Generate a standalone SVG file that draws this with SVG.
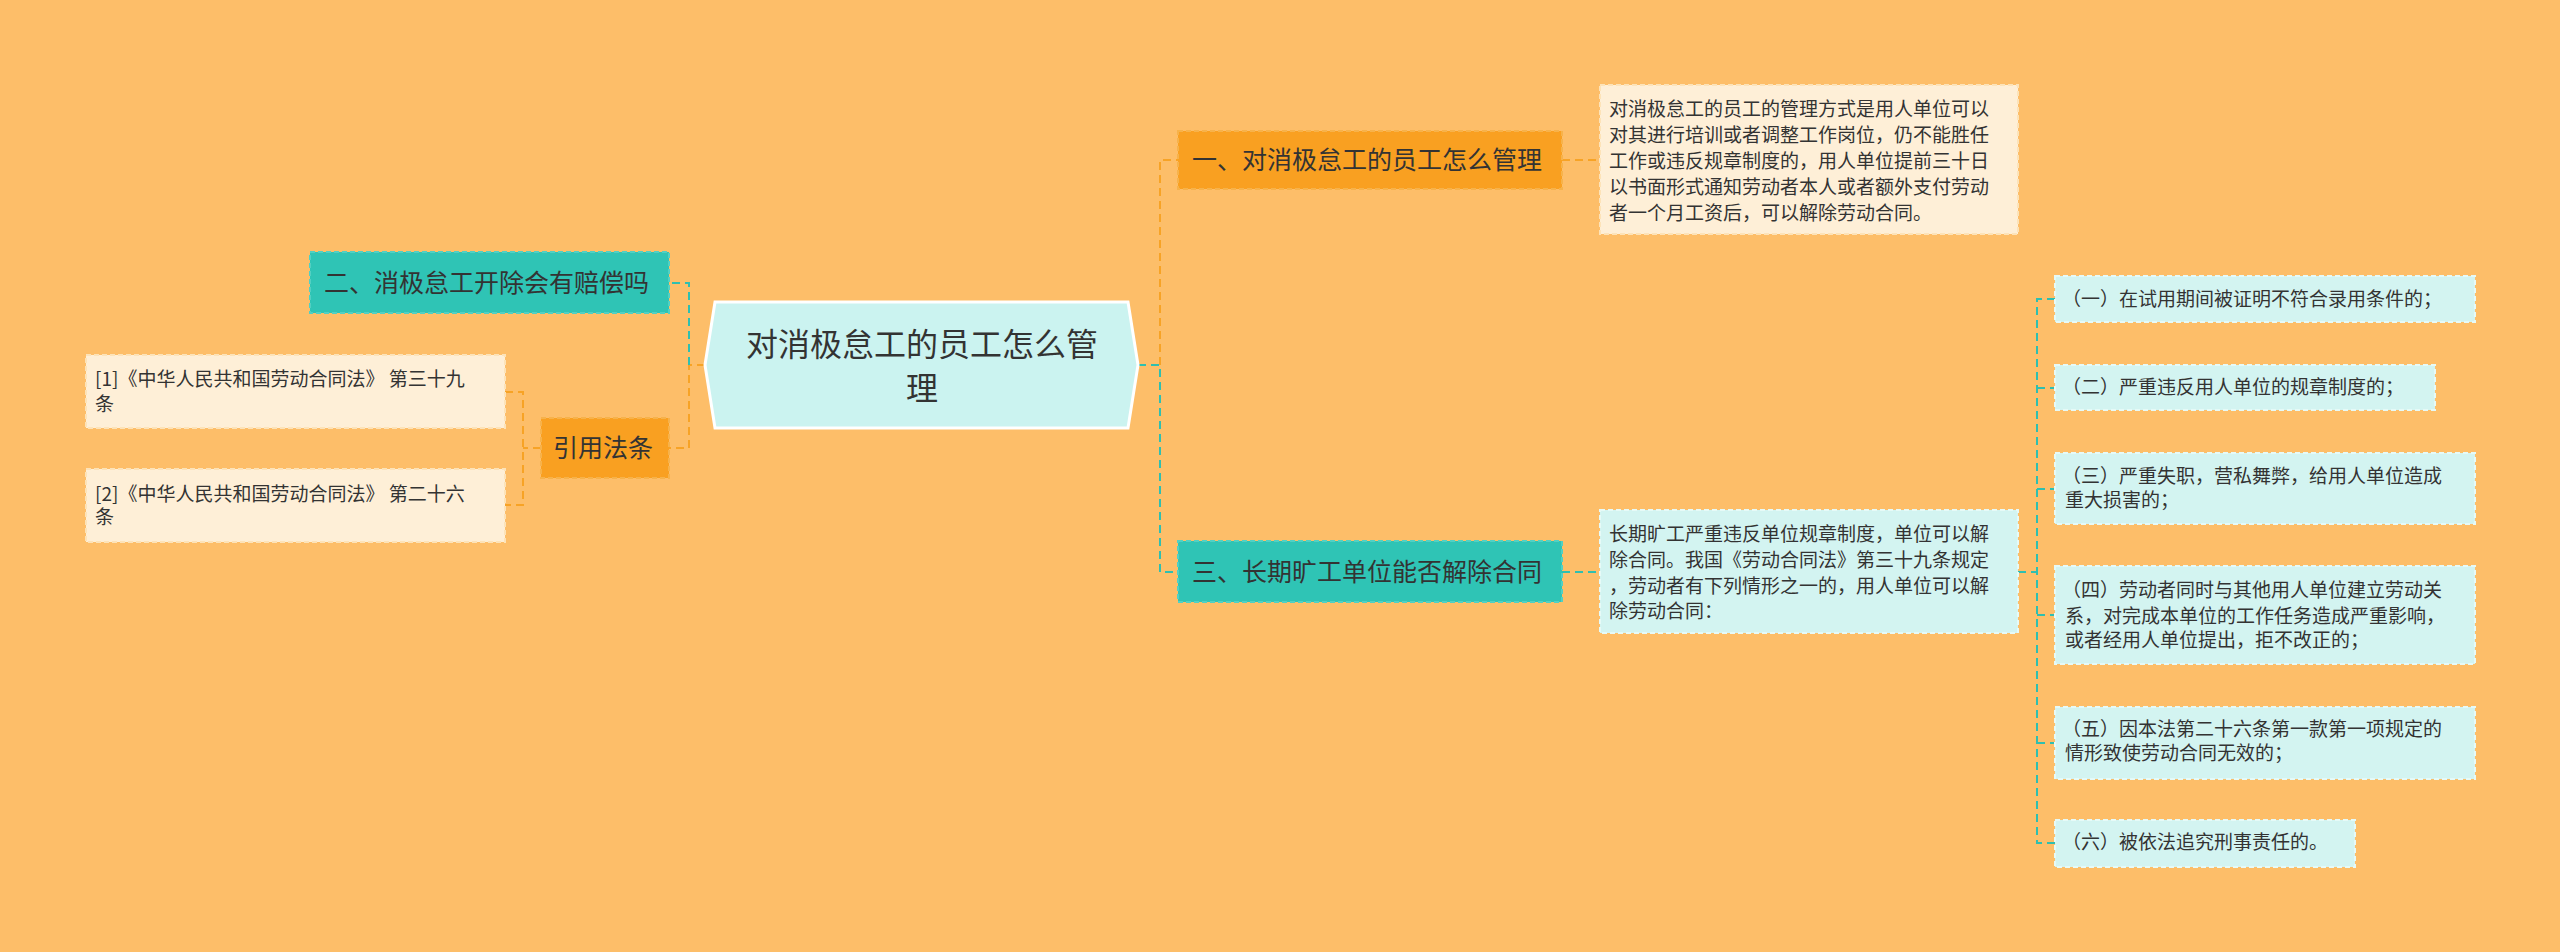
<svg xmlns="http://www.w3.org/2000/svg" width="2560" height="952" viewBox="0 0 2560 952">
<style>
text{font-family:"Noto Sans CJK SC","Noto Sans",sans-serif;fill:#333}
.t1{font-size:25px}
.t2{font-size:19px}
.or{fill:#f9a021;stroke:#f7b24a;stroke-width:2;stroke-dasharray:5 3}
.te{fill:#2fc4b5;stroke:#52d0c3;stroke-width:2;stroke-dasharray:5 3}
.cr{fill:#feefd7;stroke:#fde3b8;stroke-width:2;stroke-dasharray:5 3}
.cy{fill:#d3f4f1;stroke:#e6faf7;stroke-width:2;stroke-dasharray:5 3}
.lo{fill:none;stroke:#f7a326;stroke-width:2;stroke-dasharray:8 5}
.lt{fill:none;stroke:#2fbfb0;stroke-width:2;stroke-dasharray:8 5}
</style>
<rect width="2560" height="952" fill="#fdbe69"/>
<g id="connectors">
<path class="lo" d="M705 365H689V448H669"/>
<path class="lt" d="M689 365V283H669"/>
<path class="lo" d="M541 448H523M505 392H523V505H505"/>
<path class="lt" d="M1138 365H1160V572H1178"/>
<path class="lo" d="M1160 365V160H1178M1562 160H1600"/>
<path class="lt" d="M1562 572H1600M2018 572H2037M2055 299H2037V843H2055M2037 388H2055M2037 489H2055M2037 615H2055M2037 743H2055"/>
</g>
<g id="center">
<polygon points="715,302 1128,302 1138,365 1128,428 715,428 705,365" fill="#cbf3f0" stroke="#fff" stroke-width="3"/>
<text x="922" y="356" font-size="32" text-anchor="middle">对消极怠工的员工怎么管</text>
<text x="922" y="400" font-size="32" text-anchor="middle">理</text>
</g>
<g id="n1"><rect class="or" x="1178" y="131" width="384" height="58"/><text class="t1" x="1192" y="169">一、对消极怠工的员工怎么管理</text></g>
<g id="n1d"><rect class="cr" x="1600" y="85" width="418" height="149"/>
<text class="t2" x="1609" y="116">对消极怠工的员工的管理方式是用人单位可以</text>
<text class="t2" x="1609" y="142">对其进行培训或者调整工作岗位，仍不能胜任</text>
<text class="t2" x="1609" y="168">工作或违反规章制度的，用人单位提前三十日</text>
<text class="t2" x="1609" y="194">以书面形式通知劳动者本人或者额外支付劳动</text>
<text class="t2" x="1609" y="220">者一个月工资后，可以解除劳动合同。</text></g>
<g id="n3"><rect class="te" x="1178" y="541" width="384" height="61"/><text class="t1" x="1192" y="581">三、长期旷工单位能否解除合同</text></g>
<g id="n3d"><rect class="cy" x="1600" y="510" width="418" height="123"/>
<text class="t2" x="1609" y="541">长期旷工严重违反单位规章制度，单位可以解</text>
<text class="t2" x="1609" y="567">除合同。我国《劳动合同法》第三十九条规定</text>
<text class="t2" x="1609" y="593">，劳动者有下列情形之一的，用人单位可以解</text>
<text class="t2" x="1609" y="618">除劳动合同：</text></g>
<g id="i1"><rect class="cy" x="2055" y="276" width="420" height="46"/><text class="t2" x="2062" y="306">（一）在试用期间被证明不符合录用条件的；</text></g>
<g id="i2"><rect class="cy" x="2055" y="365" width="380" height="45"/><text class="t2" x="2062" y="394">（二）严重违反用人单位的规章制度的；</text></g>
<g id="i3"><rect class="cy" x="2055" y="453" width="420" height="71"/><text class="t2" x="2062" y="483">（三）严重失职，营私舞弊，给用人单位造成</text><text class="t2" x="2065" y="507">重大损害的；</text></g>
<g id="i4"><rect class="cy" x="2055" y="566" width="420" height="98"/><text class="t2" x="2062" y="597">（四）劳动者同时与其他用人单位建立劳动关</text><text class="t2" x="2065" y="623">系，对完成本单位的工作任务造成严重影响，</text><text class="t2" x="2065" y="647">或者经用人单位提出，拒不改正的；</text></g>
<g id="i5"><rect class="cy" x="2055" y="707" width="420" height="72"/><text class="t2" x="2062" y="736">（五）因本法第二十六条第一款第一项规定的</text><text class="t2" x="2065" y="760">情形致使劳动合同无效的；</text></g>
<g id="i6"><rect class="cy" x="2055" y="820" width="300" height="47"/><text class="t2" x="2062" y="849">（六）被依法追究刑事责任的。</text></g>
<g id="n2"><rect class="te" x="310" y="252" width="359" height="61"/><text class="t1" x="324" y="292">二、消极怠工开除会有赔偿吗</text></g>
<g id="nr"><rect class="or" x="541" y="418" width="128" height="60"/><text class="t1" x="553" y="457">引用法条</text></g>
<g id="r1"><rect class="cr" x="86" y="355" width="419" height="73"/><text class="t2" x="95" y="386">[1]《中华人民共和国劳动合同法》 第三十九</text><text class="t2" x="95" y="411">条</text></g>
<g id="r2"><rect class="cr" x="86" y="469" width="419" height="73"/><text class="t2" x="95" y="501">[2]《中华人民共和国劳动合同法》 第二十六</text><text class="t2" x="95" y="524">条</text></g>
</svg>
